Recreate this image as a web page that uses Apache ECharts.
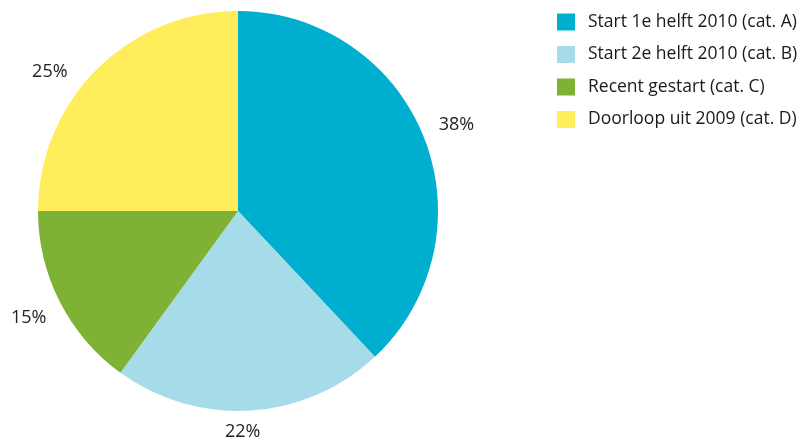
<!DOCTYPE html>
<html><head><meta charset="utf-8">
<script src="https://cdn.jsdelivr.net/npm/echarts@6/dist/echarts.min.js"></script>
<style>html,body{margin:0;padding:0;background:#fff}#c{width:805px;height:437px}</style>
</head><body><div id="c"></div>
<script>
const categories = ['Start 1e helft 2010 (cat. A)', 'Start 2e helft 2010 (cat. B)', 'Recent gestart (cat. C)', 'Doorloop uit 2009 (cat. D)'];
const values = [38, 22, 15, 25];
const colors = ['#00aed0', '#a6dbea', '#7fb135', '#ffed5c'];
const labelOffsets = [[0, 0], [-10, -14], [0, 0], [-22, 27]];

const chart = echarts.init(document.getElementById('c'));
chart.setOption({
  animation: false,
  color: colors,
  legend: {
    orient: 'vertical', left: 557, top: 13, padding: 0,
    itemWidth: 18, itemHeight: 17, itemGap: 14.5,
    icon: 'rect',
    data: categories,
    textStyle: { fontFamily: 'Open Sans', fontSize: 17.5, color: '#1a1a1a', padding: [0, 0, 0, 8] }
  },
  series: [
    {
      type: 'pie', center: [238, 211], radius: [0, 200], startAngle: 90, clockwise: true,
      silent: true, label: { show: false }, labelLine: { show: false },
      itemStyle: { borderWidth: 0 },
      data: categories.map((n, i) => ({ name: n, value: values[i], itemStyle: { color: colors[i] } }))
    },
    {
      type: 'pie', center: [238, 211], radius: [200, 264], startAngle: 90, clockwise: true,
      silent: true, legendHoverLink: false,
      itemStyle: { color: 'rgba(0,0,0,0)' },
      label: { show: true, position: 'inside', formatter: '{c}%', fontFamily: 'Open Sans', fontSize: 18, color: '#222' },
      labelLine: { show: false },
      data: categories.map((n, i) => ({ name: n, value: values[i], label: { offset: labelOffsets[i] } }))
    }
  ]
});
</script></body></html>
